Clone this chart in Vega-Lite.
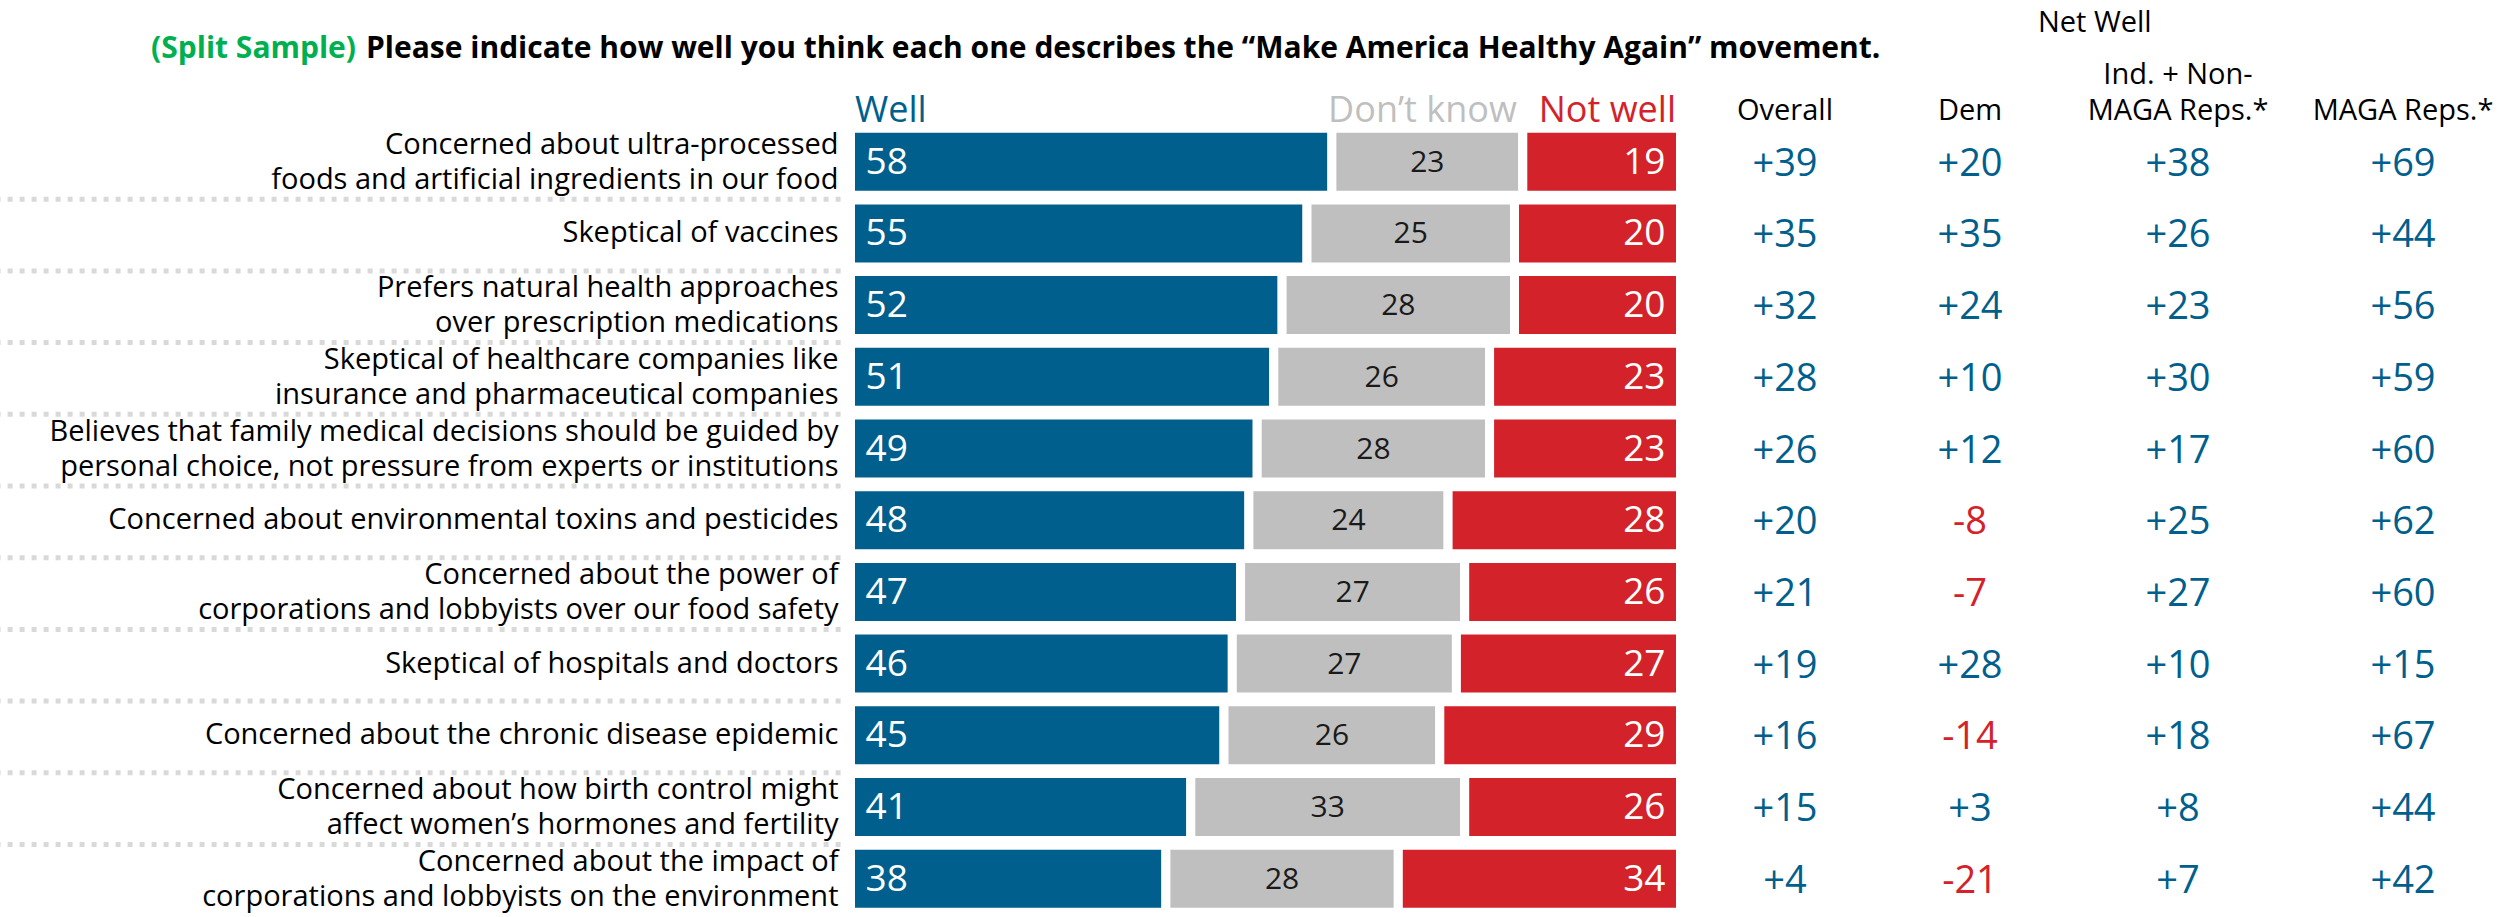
{
  "$schema": "https://vega.github.io/schema/vega-lite/v6.json",
  "width": 2515,
  "height": 917,
  "autosize": {"type": "none"},
  "padding": 0,
  "background": "white",
  "config": {
    "view": {"stroke": null},
    "font": "Open Sans",
    "locale": {"number": {"decimal": ".", "thousands": ",", "grouping": [3], "currency": ["$", ""], "minus": "-"}}
  },
  "datasets": {
    "rows": [
      {"item": "ultra", "label": ["Concerned about ultra-processed", "foods and artificial ingredients in our food"], "well": 58, "dk": 23, "notwell": 19, "overall": 39, "dem": 20, "ind": 38, "maga": 69},
      {"item": "vaccines", "label": ["Skeptical of vaccines"], "well": 55, "dk": 25, "notwell": 20, "overall": 35, "dem": 35, "ind": 26, "maga": 44},
      {"item": "natural", "label": ["Prefers natural health approaches", "over prescription medications"], "well": 52, "dk": 28, "notwell": 20, "overall": 32, "dem": 24, "ind": 23, "maga": 56},
      {"item": "healthcare", "label": ["Skeptical of healthcare companies like", "insurance and pharmaceutical companies"], "well": 51, "dk": 26, "notwell": 23, "overall": 28, "dem": 10, "ind": 30, "maga": 59},
      {"item": "family", "label": ["Believes that family medical decisions should be guided by", "personal choice, not pressure from experts or institutions"], "well": 49, "dk": 28, "notwell": 23, "overall": 26, "dem": 12, "ind": 17, "maga": 60},
      {"item": "toxins", "label": ["Concerned about environmental toxins and pesticides"], "well": 48, "dk": 24, "notwell": 28, "overall": 20, "dem": -8, "ind": 25, "maga": 62},
      {"item": "power", "label": ["Concerned about the power of", "corporations and lobbyists over our food safety"], "well": 47, "dk": 27, "notwell": 26, "overall": 21, "dem": -7, "ind": 27, "maga": 60},
      {"item": "hospitals", "label": ["Skeptical of hospitals and doctors"], "well": 46, "dk": 27, "notwell": 27, "overall": 19, "dem": 28, "ind": 10, "maga": 15},
      {"item": "chronic", "label": ["Concerned about the chronic disease epidemic"], "well": 45, "dk": 26, "notwell": 29, "overall": 16, "dem": -14, "ind": 18, "maga": 67},
      {"item": "birth", "label": ["Concerned about how birth control might", "affect women’s hormones and fertility"], "well": 41, "dk": 33, "notwell": 26, "overall": 15, "dem": 3, "ind": 8, "maga": 44},
      {"item": "impact", "label": ["Concerned about the impact of", "corporations and lobbyists on the environment"], "well": 38, "dk": 28, "notwell": 34, "overall": 4, "dem": -21, "ind": 7, "maga": 42}
    ],
    "cols": [
      {"grp": "overall", "col": 1, "header": ["Overall"]},
      {"grp": "dem", "col": 2, "header": ["Dem"]},
      {"grp": "ind", "col": 3, "header": ["Ind. + Non-", "MAGA Reps.*"]},
      {"grp": "maga", "col": 4, "header": ["MAGA Reps.*"]}
    ]
  },
  "data": {"name": "rows"},
  "resolve": {"scale": {"x": "independent"}},
  "layer": [
    {
      "layer": [
        {
          "transform": [{"filter": "datum.item != 'impact'"}],
          "mark": {"type": "rule", "strokeDash": [5, 7], "strokeWidth": 5, "color": "#D9D9D9"},
          "encoding": {
            "y": {"field": "item", "type": "nominal", "bandPosition": 1.06, "axis": null, "scale": {"domain": ["ultra", "vaccines", "natural", "healthcare", "family", "toxins", "power", "hospitals", "chronic", "birth", "impact"], "range": [125.85, 914.55], "paddingInner": 0.066, "paddingOuter": 0.033}},
            "x": {"datum": -103, "type": "quantitative", "axis": null, "scale": {"domain": [0, 100], "range": [850.5, 1680.5], "nice": false, "zero": false}},
            "x2": {"datum": -1}
          }
        },
        {
          "transform": [
            {"fold": ["well", "dk", "notwell"], "as": ["response", "pct"]},
            {"stack": "pct", "groupby": ["item"], "as": ["x0", "x1"]}
          ],
          "mark": {"type": "bar", "stroke": "white", "strokeWidth": 9},
          "encoding": {
            "y": {"field": "item", "type": "nominal", "axis": null, "scale": {"domain": ["ultra", "vaccines", "natural", "healthcare", "family", "toxins", "power", "hospitals", "chronic", "birth", "impact"], "range": [125.85, 914.55], "paddingInner": 0.066, "paddingOuter": 0.033}},
            "x": {"field": "x0", "type": "quantitative", "axis": null, "scale": {"domain": [0, 100], "range": [850.5, 1680.5], "nice": false, "zero": false}},
            "x2": {"field": "x1"},
            "color": {"field": "response", "type": "nominal", "legend": null, "scale": {"domain": ["well", "dk", "notwell"], "range": ["#005F8C", "#BFBFBF", "#D3222A"]}}
          }
        },
        {
          "transform": [
            {"fold": ["well", "dk", "notwell"], "as": ["response", "pct"]},
            {"stack": "pct", "groupby": ["item"], "as": ["x0", "x1"]},
            {"filter": "datum.response == 'well'"}
          ],
          "mark": {"type": "text", "align": "left", "baseline": "middle", "dx": 15, "dy": 1, "fontSize": 37, "fontWeight": 500, "color": "white"},
          "encoding": {
            "y": {"field": "item", "type": "nominal", "axis": null},
            "x": {"field": "x0", "type": "quantitative", "axis": null, "scale": {"domain": [0, 100], "range": [850.5, 1680.5], "nice": false, "zero": false}},
            "text": {"field": "pct", "type": "quantitative"}
          }
        },
        {
          "transform": [
            {"fold": ["well", "dk", "notwell"], "as": ["response", "pct"]},
            {"stack": "pct", "groupby": ["item"], "as": ["x0", "x1"]},
            {"filter": "datum.response == 'notwell'"}
          ],
          "mark": {"type": "text", "align": "right", "baseline": "middle", "dx": -15, "dy": 1, "fontSize": 37, "fontWeight": 500, "color": "white"},
          "encoding": {
            "y": {"field": "item", "type": "nominal", "axis": null},
            "x": {"field": "x1", "type": "quantitative", "axis": null, "scale": {"domain": [0, 100], "range": [850.5, 1680.5], "nice": false, "zero": false}},
            "text": {"field": "pct", "type": "quantitative"}
          }
        },
        {
          "transform": [
            {"fold": ["well", "dk", "notwell"], "as": ["response", "pct"]},
            {"stack": "pct", "groupby": ["item"], "as": ["x0", "x1"]},
            {"filter": "datum.response == 'dk'"},
            {"fold": ["x0", "x1"], "as": ["edge", "pos"]},
            {"aggregate": [{"op": "mean", "field": "pos", "as": "mid"}], "groupby": ["item", "pct"]}
          ],
          "mark": {"type": "text", "align": "center", "baseline": "middle", "dy": 1, "fontSize": 30, "color": "#1A1A1A"},
          "encoding": {
            "y": {"field": "item", "type": "nominal", "axis": null},
            "x": {"field": "mid", "type": "quantitative", "axis": null, "scale": {"domain": [0, 100], "range": [850.5, 1680.5], "nice": false, "zero": false}},
            "text": {"field": "pct", "type": "quantitative"}
          }
        },
        {
          "transform": [{"filter": "length(datum.label) == 1"}],
          "mark": {"type": "text", "align": "right", "baseline": "middle", "dx": -12, "fontSize": 29, "color": "#000000"},
          "encoding": {
            "y": {"field": "item", "type": "nominal", "axis": null},
            "x": {"datum": 0, "type": "quantitative", "axis": null, "scale": {"domain": [0, 100], "range": [850.5, 1680.5], "nice": false, "zero": false}},
            "text": {"field": "label"}
          }
        },
        {
          "transform": [{"filter": "length(datum.label) == 2"}],
          "mark": {"type": "text", "align": "right", "baseline": "middle", "dx": -12, "dy": -17, "fontSize": 29, "lineHeight": 35, "color": "#000000"},
          "encoding": {
            "y": {"field": "item", "type": "nominal", "axis": null},
            "x": {"datum": 0, "type": "quantitative", "axis": null, "scale": {"domain": [0, 100], "range": [850.5, 1680.5], "nice": false, "zero": false}},
            "text": {"field": "label"}
          }
        },
        {
          "data": {"values": [{}]},
          "mark": {"type": "text", "text": "Well", "align": "left", "baseline": "alphabetic", "dx": 4.5, "fontSize": 36, "fontWeight": 500, "color": "#005F8C"},
          "encoding": {
            "x": {"datum": 0, "type": "quantitative", "axis": null, "scale": {"domain": [0, 100], "range": [850.5, 1680.5], "nice": false, "zero": false}},
            "y": {"value": 122}
          }
        },
        {
          "data": {"values": [{}]},
          "mark": {"type": "text", "text": "Don’t know", "align": "right", "baseline": "alphabetic", "dx": -6, "fontSize": 36, "fontWeight": 500, "color": "#BFBFBF"},
          "encoding": {
            "x": {"datum": 81, "type": "quantitative", "axis": null, "scale": {"domain": [0, 100], "range": [850.5, 1680.5], "nice": false, "zero": false}},
            "y": {"value": 122}
          }
        },
        {
          "data": {"values": [{}]},
          "mark": {"type": "text", "text": "Not well", "align": "right", "baseline": "alphabetic", "dx": -4.5, "fontSize": 36, "fontWeight": 500, "color": "#D3222A"},
          "encoding": {
            "x": {"datum": 100, "type": "quantitative", "axis": null, "scale": {"domain": [0, 100], "range": [850.5, 1680.5], "nice": false, "zero": false}},
            "y": {"value": 122}
          }
        }
      ]
    },
    {
      "layer": [
        {
          "transform": [
            {"fold": ["overall", "dem", "ind", "maga"], "as": ["grp", "net"]},
            {"lookup": "grp", "from": {"data": {"name": "cols"}, "key": "grp", "fields": ["col"]}}
          ],
          "mark": {"type": "text", "align": "center", "baseline": "middle", "dy": 3, "fontSize": 38, "fontWeight": 500},
          "encoding": {
            "y": {"field": "item", "type": "nominal", "axis": null},
            "x": {"field": "col", "type": "quantitative", "axis": null, "scale": {"domain": [1, 2, 3, 4], "range": [1785, 1970, 2178, 2403], "nice": false, "zero": false}},
            "text": {"field": "net", "type": "quantitative", "format": "+d"},
            "color": {"condition": {"test": "datum.net < 0", "value": "#D3222A"}, "value": "#005F8C"}
          }
        },
        {
          "data": {"name": "cols"},
          "transform": [{"filter": "length(datum.header) == 1"}],
          "mark": {"type": "text", "align": "center", "baseline": "alphabetic", "fontSize": 29, "color": "#000000"},
          "encoding": {
            "x": {"field": "col", "type": "quantitative", "axis": null, "scale": {"domain": [1, 2, 3, 4], "range": [1785, 1970, 2178, 2403], "nice": false, "zero": false}},
            "y": {"value": 120},
            "text": {"field": "header"}
          }
        },
        {
          "data": {"name": "cols"},
          "transform": [{"filter": "length(datum.header) == 2"}],
          "mark": {"type": "text", "align": "center", "baseline": "alphabetic", "fontSize": 29, "lineHeight": 36, "color": "#000000"},
          "encoding": {
            "x": {"field": "col", "type": "quantitative", "axis": null, "scale": {"domain": [1, 2, 3, 4], "range": [1785, 1970, 2178, 2403], "nice": false, "zero": false}},
            "y": {"value": 84},
            "text": {"field": "header"}
          }
        },
        {
          "data": {"values": [{}]},
          "mark": {"type": "text", "text": "Net Well", "align": "center", "baseline": "alphabetic", "fontSize": 29, "color": "#000000"},
          "encoding": {
            "x": {"datum": 2.6, "type": "quantitative", "axis": null, "scale": {"domain": [1, 2, 3, 4], "range": [1785, 1970, 2178, 2403], "nice": false, "zero": false}},
            "y": {"value": 32}
          }
        }
      ]
    },
    {
      "layer": [
        {
          "data": {"values": [{}]},
          "mark": {"type": "text", "text": "(Split Sample)", "align": "right", "baseline": "middle", "fontSize": 30, "fontWeight": "bold", "color": "#00B050"},
          "encoding": {"x": {"value": 356}, "y": {"value": 49}}
        },
        {
          "data": {"values": [{}]},
          "mark": {"type": "text", "text": "Please indicate how well you think each one describes the “Make America Healthy Again” movement.", "align": "left", "baseline": "middle", "fontSize": 30, "fontWeight": "bold", "color": "#000000"},
          "encoding": {"x": {"value": 366}, "y": {"value": 49}}
        }
      ]
    }
  ]
}
